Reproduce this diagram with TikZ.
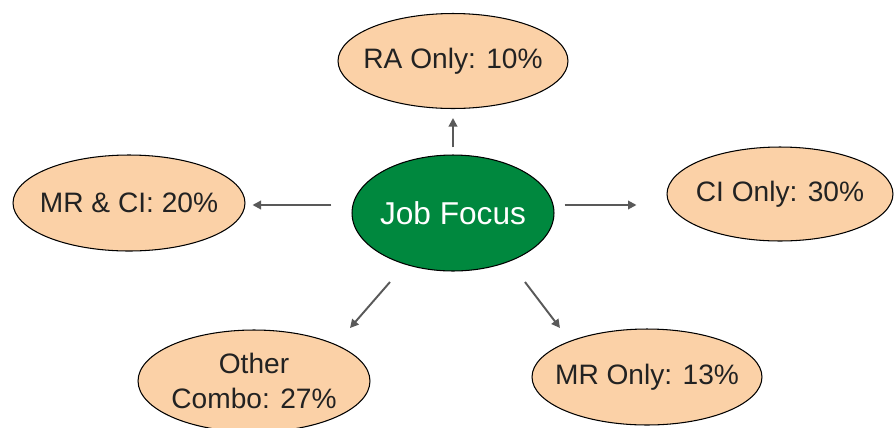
\documentclass[tikz,border=0pt]{standalone}
\usepackage{fontspec}
\setmainfont{Liberation Sans}
\usepackage{tikz}
\usetikzlibrary{shapes.geometric}
\usetikzlibrary{arrows.meta}

\definecolor{peach}{HTML}{FBD1A7}
\definecolor{jobgreen}{HTML}{00883E}
\definecolor{arrowgray}{HTML}{595959}
\definecolor{inkgray}{HTML}{222222}

\begin{document}
\begin{tikzpicture}[x=0.02cm,y=-0.02cm]
% negative inner sep so the minimum sizes fix the ellipses
\tikzstyle{bubble}=[ellipse,draw=black,line width=0.6pt,fill=peach,text=inkgray,inner xsep=-1cm,inner ysep=-0.4cm,align=center,font=\fontsize{16}{20}\selectfont]
\tikzstyle{hub}=[ellipse,draw=black,line width=0.6pt,fill=jobgreen,text=white,inner xsep=-1cm,inner ysep=-0.4cm,font=\fontsize{18}{22}\selectfont]
\tikzstyle{arr}=[draw=arrowgray,line width=1.1pt,-{Triangle[length=0.17cm,width=0.17cm]}]

\useasboundingbox (0,0) rectangle (896,427);

\node[hub,minimum width=4.04cm,minimum height=2.32cm] (jf) at (453,213) {Job Focus} ;
\node[bubble,minimum width=4.6cm,minimum height=1.9cm] (ra) at (453,61) {RA Only: 10\%} ;
\node[bubble,minimum width=4.64cm,minimum height=1.92cm] (mrci) at (129,203) {MR \& CI: 20\%} ;
\node[bubble,minimum width=4.52cm,minimum height=1.88cm] (ci) at (780,194) {CI Only: 30\%} ;
\node[bubble,minimum width=4.64cm,minimum height=2.04cm] (oc) at (254,381) {Other\\Combo: 27\%} ;
\node[bubble,minimum width=4.6cm,minimum height=1.92cm] (mr) at (647,377) {MR Only: 13\%} ;

\draw[arr] ([shift={(0,-7)}]jf.north) -- ([shift={(0,9)}]ra.south) ;
\draw[arr] ([shift={(10,-8)}]jf.east) -- ([shift={(-30,11)}]ci.west) ;
\draw[arr] ([shift={(-20,-8)}]jf.west) -- ([shift={(7,2)}]mrci.east) ;
\draw[arr] ([shift={(-63,69)}]jf.center) -- ([shift={(96,-53)}]oc.center) ;
\draw[arr] ([shift={(72,69)}]jf.center) -- ([shift={(-87,-49)}]mr.center) ;

\end{tikzpicture}
\end{document}
